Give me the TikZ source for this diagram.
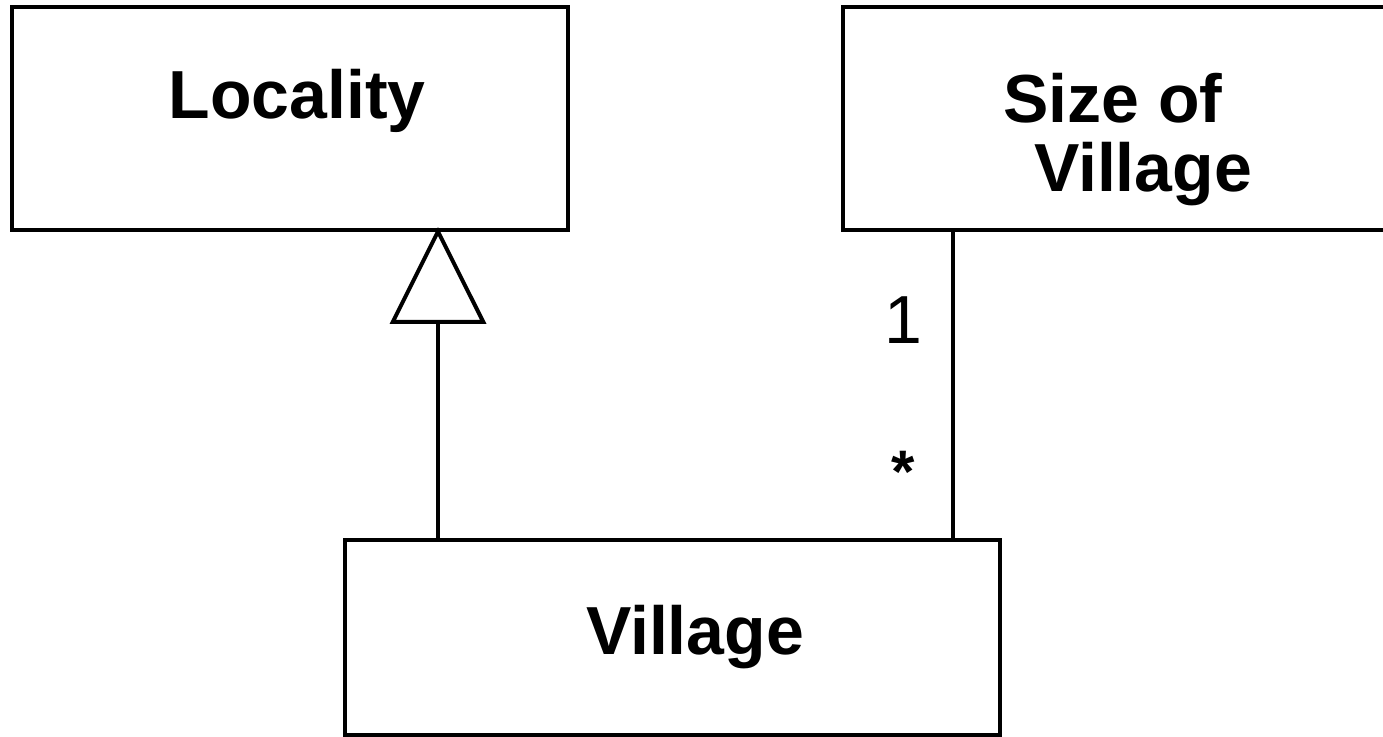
\documentclass[tikz,border=0pt]{standalone}
\usepackage{fontspec}
\setmainfont{Liberation Sans}
\usepackage{tikz}
\usetikzlibrary{arrows.meta}
\usetikzlibrary{positioning}

\begin{document}
\begin{tikzpicture}[x=0.5pt, y=-0.5pt, line width=2pt,
        classbox/.style={rectangle, draw, minimum width=278pt, minimum height=111.5pt, inner sep=0pt},
        classname/.style={font=\fontsize{34}{36}\selectfont\bfseries, anchor=base, inner sep=0pt},
        mult/.style={font=\fontsize{34}{36}\selectfont, inner sep=0pt}]
        \useasboundingbox (0,0) rectangle (1383,737);
        % classes
        \node[classbox] (locality) at (290,118.5) {};
        \node[classbox] (size) at (1121,118.5) {};
        \node[classbox, minimum width=327.5pt, minimum height=97.5pt] (village) at (672.5,637.5) {};
        \node[classname] (localityname) at (297,119) {Locality};
        \node[classname] (sizename) at (1113,123) {Size of};
        \node[classname] (sizename2) at (1143,192) {Village};
        \node[classname] (villagename) at (695,655) {Village};
        \coordinate (gen) at (438,0);
        \coordinate (assoc) at (953,0);
        % generalization and association
        \draw[-{Triangle[open, length=48.5pt, width=48pt]}, line join=miter, shorten >=-2.5pt]
            (village.north -| gen) -- (locality.south -| gen);
        \draw (size.south -| assoc) -- (village.north -| assoc);
        \node[mult] (one) at (903,320) {1};
        \node[mult, font=\fontsize{30}{32}\selectfont\bfseries] (many) at (903,472) {*};
    \end{tikzpicture}
\end{document}
